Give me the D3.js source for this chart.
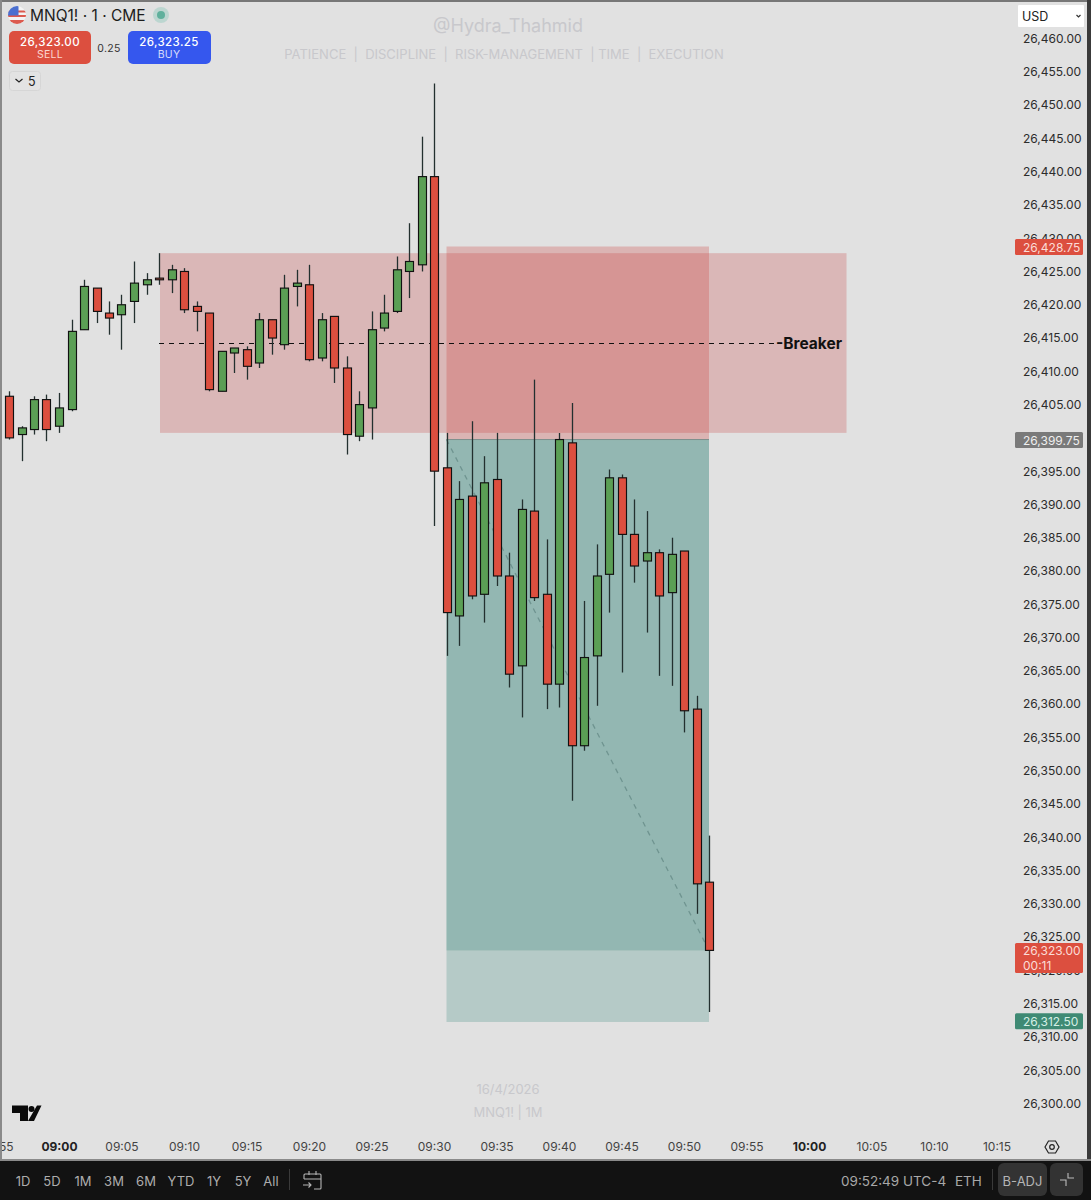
<!DOCTYPE html>
<html>
<head>
<meta charset="utf-8">
<script src="https://cdn.jsdelivr.net/npm/d3@7/dist/d3.min.js"></script>
<style>
html,body{margin:0;padding:0;background:#e1e1e1;}
svg{display:block;font-family:Inter,Roboto,"Noto Sans",sans-serif;}
</style>
</head>
<body>
<svg id="c" width="1091" height="1200"></svg>
<script>
// ---- data ----
const firstMinute = 8*60+56;
const opens  = [26406.25,26400.5,26401.25,26405.75,26401.75,26404.25,26416.25,26422.5,26418.75,26418.5,26420.5,26423,26424,26423.75,26425,26419.75,26418.75,26407,26412.75,26413.25,26411.25,26417.75,26414,26422.75,26423,26412,26418.25,26410.5,26400.25,26404.5,26416.5,26419,26425,26426,26439.25,26395.5,26373.25,26391.25,26376.5,26393.75,26379.25,26365.75,26389,26376.5,26363,26399.25,26353.75,26367.25,26379.5,26394,26385.5,26381.5,26382.75,26376.75,26383,26359.25,26333.25];
const highs  = [26407,26401.75,26406.25,26406.5,26406.75,26417.75,26423.75,26422.5,26420.5,26421.5,26426.5,26424.75,26427.75,26426,26425.5,26420.5,26418.75,26413,26413.5,26413.75,26418.75,26417.75,26424.5,26425.25,26426,26418.75,26418.25,26412.25,26407,26419,26421.5,26427.25,26432.25,26445.25,26453.25,26400.75,26393.5,26402.5,26397.25,26400.75,26382.75,26390.75,26408.75,26384.75,26400.75,26405.25,26375.5,26384,26395.25,26394.5,26390.75,26389,26383.25,26385,26383,26361.25,26340.25];
const lows   = [26399.75,26396.5,26400.5,26399.5,26400.75,26404,26416.25,26417.25,26415.5,26413.25,26417.25,26421.5,26423,26421.75,26418.75,26416,26407,26407,26409.75,26408.75,26410.5,26412.5,26413.25,26419.75,26411.5,26411.5,26408.25,26397.5,26399.5,26399.75,26416,26418.75,26421,26425,26386.75,26367.25,26368.75,26375.75,26372.25,26377.75,26362.5,26358,26375.5,26359.25,26359.5,26345.5,26353,26359.75,26373.75,26364.75,26378.25,26370.75,26364.25,26362.75,26355.75,26328.5,26313.75];
const closes = [26400,26401.5,26405.75,26401.25,26404.5,26416,26422.75,26419,26418,26420,26423.25,26423.75,26423.75,26425.25,26419.25,26419,26407.25,26413,26413.5,26410.75,26417.75,26415,26422.5,26423.25,26411.75,26417.75,26410.5,26400.5,26405,26416.25,26418.75,26425.25,26426.5,26439.25,26395,26373.75,26390.75,26376.25,26393.25,26379.25,26364.5,26389.25,26376,26363,26399.75,26353.75,26367,26379.25,26394,26385.5,26380.75,26382.75,26376.25,26382.5,26359,26333,26323];

const priceTicks = d3.range(26300, 26461, 5);
const timeTickMinutes = [535,540,545,550,555,560,565,570,575,580,585,590,595,600,605,610,615];
const timeTickLabels = ["08:55","09:00","09:05","09:10","09:15","09:20","09:25","09:30","09:35","09:40","09:45","09:50","09:55","10:00","10:05","10:10","10:15"];
const boldTimeTicks = ["09:00","10:00"];

const breakerZone = {t0:548, t1:603, top:26427.75, bottom:26400.75, level:26414.25};
const position = {t0:571, t1:592, stop:26428.75, entry:26399.75, current:26323, target:26312.5, zoneBottom:26312.25};

const rangeButtons = ["1D","5D","1M","3M","6M","YTD","1Y","5Y","All"];
const rangeButtonX = [23,52,83,114,146,181,214,243,271];

// ---- scales ----
const x = d3.scaleLinear().domain([540,600]).range([59,809]);
const y = d3.scaleLinear().domain([26460,26300]).range([38.5,1103.5]);
const fmt = d3.format(",.2f");
const tickFont = 12;

const svg = d3.select("#c");
svg.append("rect").attr("width",1091).attr("height",1200).attr("fill","#e1e1e1");

// watermarks
const wm = svg.append("g").attr("fill","#c8c8cc").attr("text-anchor","middle");
wm.append("text").attr("x",508).attr("y",32).attr("font-size",18).text("@Hydra_Thahmid");
wm.append("text").attr("x",504).attr("y",59).attr("font-size",13).attr("xml:space","preserve").text("PATIENCE  |  DISCIPLINE  |  RISK-MANAGEMENT  | TIME  |  EXECUTION");
wm.append("text").attr("x",508).attr("y",1094).attr("font-size",13).text("16/4/2026");
wm.append("text").attr("x",508).attr("y",1117).attr("font-size",13).text("MNQ1! | 1M");

// zones
svg.append("rect").attr("x",x(breakerZone.t0)+1).attr("width",x(breakerZone.t1)-x(breakerZone.t0)-1)
  .attr("y",y(breakerZone.top)).attr("height",y(breakerZone.bottom)-y(breakerZone.top))
  .attr("fill","rgb(200,60,60)").attr("fill-opacity",0.25);
const px0 = x(position.t0), pw = x(position.t1)-x(position.t0);
svg.append("rect").attr("x",px0).attr("width",pw).attr("y",y(position.stop)).attr("height",y(position.entry)-y(position.stop))
  .attr("fill","rgb(205,60,55)").attr("fill-opacity",0.27);
svg.append("rect").attr("x",px0).attr("width",pw).attr("y",y(position.entry)).attr("height",y(position.zoneBottom)-y(position.entry))
  .attr("fill","rgb(80,150,140)").attr("fill-opacity",0.30);
svg.append("rect").attr("x",px0).attr("width",pw).attr("y",y(position.entry)).attr("height",y(position.current)-y(position.entry))
  .attr("fill","rgb(70,140,130)").attr("fill-opacity",0.30);
svg.append("line").attr("x1",px0).attr("x2",px0+pw).attr("y1",y(position.entry)).attr("y2",y(position.entry))
  .attr("stroke","#7d8f8c").attr("stroke-width",1);
svg.append("line").attr("x1",px0).attr("y1",y(position.entry)).attr("x2",x(position.t1)).attr("y2",y(position.current))
  .attr("stroke","#6f9490").attr("stroke-width",1.3).attr("stroke-dasharray","5,5");

// breaker line
svg.append("line").attr("x1",x(breakerZone.t0)).attr("x2",776).attr("y1",y(breakerZone.level)).attr("y2",y(breakerZone.level))
  .attr("stroke","#111").attr("stroke-width",1).attr("stroke-dasharray","5,5").attr("shape-rendering","crispEdges");

// candles
const candles = opens.map((o,i)=>({t:firstMinute+i,o,h:highs[i],l:lows[i],c:closes[i]}));
const cg = svg.append("g");
cg.selectAll("line").data(candles).join("line")
  .attr("x1",d=>Math.round(x(d.t))+0.5).attr("x2",d=>Math.round(x(d.t))+0.5)
  .attr("y1",d=>y(d.h)).attr("y2",d=>y(d.l))
  .attr("stroke","#23302f").attr("stroke-width",1.3);
cg.selectAll("rect").data(candles).join("rect")
  .attr("x",d=>Math.round(x(d.t))+0.5-4).attr("width",8)
  .attr("y",d=>y(Math.max(d.o,d.c))).attr("height",d=>Math.max(1,Math.abs(y(d.o)-y(d.c))))
  .attr("fill",d=>d.c>d.o?"#5b9f55":"#dc4f3f")
  .attr("stroke","#111").attr("stroke-width",1.15);

svg.append("text").attr("x",776).attr("y",348.5).attr("font-size",15.5).attr("font-weight",700).attr("fill","#111").text("-Breaker");

// price axis
const ya = svg.append("g").attr("transform","translate(1023,0)")
  .call(d3.axisRight(y).tickValues(priceTicks).tickFormat(fmt).tickSize(0).tickPadding(0));
ya.select(".domain").remove();
ya.selectAll("text").attr("font-family","Inter,Roboto,sans-serif").attr("font-size",tickFont).attr("fill","#2c2c2c");

// time axis
const xa = svg.append("g").attr("transform","translate(0,1147)")
  .call(d3.axisBottom(x).tickValues(timeTickMinutes)
    .tickFormat(m=>timeTickLabels[timeTickMinutes.indexOf(m)]).tickSize(0).tickPadding(0));
xa.select(".domain").remove();
xa.selectAll("text").attr("dy","0.35em").attr("y",0).attr("font-family","Inter,Roboto,sans-serif").attr("font-size",tickFont)
  .attr("fill",d=>boldTimeTicks.includes(timeTickLabels[timeTickMinutes.indexOf(d)])?"#222":"#444")
  .attr("font-weight",d=>boldTimeTicks.includes(timeTickLabels[timeTickMinutes.indexOf(d)])?700:400);

// price tags
function tag(v,fill,color,h,extra,nudge){
  const yy=y(v)+(nudge||0), top=yy-8;
  const g=svg.append("g");
  g.append("rect").attr("x",1015).attr("y",top).attr("width",68).attr("height",h).attr("rx",1.5).attr("fill",fill);
  g.append("text").attr("x",1023).attr("y",yy+4.5).attr("font-size",tickFont).attr("fill",color).text(fmt(v));
  if(extra) g.append("text").attr("x",1023).attr("y",yy+19).attr("font-size",tickFont).attr("fill",color).text(extra);
}
tag(position.stop,"#dc4f3f","#fbdcd6",16,null,0.5);
tag(position.entry,"#7a7a7a","#efefef",16,null,0.5);
tag(position.current,"#dc4f3f","#fbdcd6",30,"00:11",0.5);
tag(position.target,"#3f8a74","#d5f0e6",16,null,1);

// USD select
svg.append("rect").attr("x",1018).attr("y",5).attr("width",66).attr("height",22).attr("fill","#fff").attr("rx",1);
svg.append("text").attr("x",1022).attr("y",21).attr("font-size",12.5).attr("fill","#222").text("USD");
svg.append("path").attr("d","M1076.5 15l2 2 2-2").attr("fill","none").attr("stroke","#333").attr("stroke-width",1.2);

// header
const defs = svg.append("defs");
defs.append("clipPath").attr("id","flag").append("circle").attr("cx",17).attr("cy",15).attr("r",9);
const flag = svg.append("g").attr("clip-path","url(#flag)");
flag.append("rect").attr("x",8).attr("y",6).attr("width",18).attr("height",18).attr("fill","#f3f3f3");
[10.5,15,19.5].forEach((yy,i)=>flag.append("rect").attr("x",8).attr("y",i==2?yy+0.5:yy).attr("width",18).attr("height",i==2?4.5:2).attr("fill","#dc5a4e"));
flag.append("rect").attr("x",8).attr("y",6).attr("width",10.5).attr("height",9.5).attr("fill","#4a6fd0");
svg.append("text").attr("x",30).attr("y",21).attr("font-size",15.5).attr("fill","#1c1c1c").text("MNQ1! · 1 · CME");
svg.append("circle").attr("cx",161).attr("cy",15).attr("r",8).attr("fill","#bcd6d0");
svg.append("circle").attr("cx",161).attr("cy",15).attr("r",4).attr("fill","#5fb09c");

svg.append("rect").attr("x",9).attr("y",31).attr("width",82).attr("height",33).attr("rx",5).attr("fill","#dc4f3f");
svg.append("text").attr("x",50).attr("y",46).attr("text-anchor","middle").attr("font-size",11.5).attr("font-weight",500).attr("letter-spacing",0.4).attr("fill","#fff").text("26,323.00");
svg.append("text").attr("x",50).attr("y",58).attr("text-anchor","middle").attr("font-size",10.5).attr("letter-spacing",0.3).attr("fill","#fbd5cf").text("SELL");
svg.append("text").attr("x",109).attr("y",52).attr("text-anchor","middle").attr("font-size",10.5).attr("letter-spacing",0.3).attr("fill","#333").text("0.25");
svg.append("rect").attr("x",128).attr("y",31).attr("width",83).attr("height",33).attr("rx",5).attr("fill","#3557ee");
svg.append("text").attr("x",169).attr("y",46).attr("text-anchor","middle").attr("font-size",11.5).attr("font-weight",500).attr("letter-spacing",0.4).attr("fill","#fff").text("26,323.25");
svg.append("text").attr("x",169).attr("y",58).attr("text-anchor","middle").attr("font-size",10.5).attr("letter-spacing",0.3).attr("fill","#d5dcfb").text("BUY");

svg.append("rect").attr("x",9.5).attr("y",71.5).attr("width",31).attr("height",19).attr("rx",3).attr("fill","#e3e3e3").attr("stroke","#d6d6d6");
svg.append("path").attr("d","M15.5 79l3.5 3 3.5-3").attr("fill","none").attr("stroke","#222").attr("stroke-width",1.2);
svg.append("text").attr("x",28).attr("y",86).attr("font-size",12.5).attr("fill","#222").text("5");

// TV logo
svg.append("path").attr("d","M12 1105.5h16v15.5h-8v-8h-8z M37 1105.5h4.5l-7.5 15.5h-6z").attr("fill","#0a0a0a");
svg.append("circle").attr("cx",31.5).attr("cy",1109).attr("r",3).attr("fill","#0a0a0a");

// settings icon
svg.append("path").attr("d","M1045 1147l3.5-6h7l3.5 6-3.5 6h-7z").attr("fill","none").attr("stroke","#222").attr("stroke-width",1.2);
svg.append("circle").attr("cx",1052).attr("cy",1147).attr("r",2.3).attr("fill","none").attr("stroke","#222").attr("stroke-width",1.2);

// frame
svg.append("rect").attr("x",0).attr("y",0).attr("width",1091).attr("height",2).attr("fill","#777");
svg.append("rect").attr("x",0).attr("y",0).attr("width",2).attr("height",1160).attr("fill","#8a8a8a");
svg.append("rect").attr("x",1087).attr("y",0).attr("width",4).attr("height",1160).attr("fill","#3a3a3a");
svg.append("rect").attr("x",0).attr("y",1159).attr("width",1091).attr("height",2).attr("fill","#8a8a8a");

// toolbar
svg.append("rect").attr("x",0).attr("y",1161).attr("width",1091).attr("height",39).attr("fill","#121212");
svg.append("rect").attr("x",289).attr("y",1169).attr("width",1).attr("height",21).attr("fill","#3a3a3a");
svg.append("rect").attr("x",992).attr("y",1169).attr("width",1).attr("height",21).attr("fill","#3a3a3a");
svg.append("rect").attr("x",998).attr("y",1163).attr("width",49).attr("height",33).attr("rx",6).attr("fill","#333");
svg.append("rect").attr("x",1050).attr("y",1163).attr("width",33).attr("height",33).attr("rx",6).attr("fill","#333");
const tb = svg.append("g").attr("font-size",13).attr("fill","#adadad");
tb.selectAll("text.r").data(rangeButtons).join("text").attr("class","r")
  .attr("x",(d,i)=>rangeButtonX[i]).attr("y",1185.5).attr("text-anchor","middle").text(d=>d);
svg.append("path").attr("d","M305 1174h15a1 1 0 0 1 1 1v13a1 1 0 0 1-1 1h-6 M304 1179v-4a1 1 0 0 1 1-1 M304 1179h17 M309 1171v4 M316 1171v4 M303 1185h8 M308.5 1182.5l2.5 2.5-2.5 2.5")
  .attr("fill","none").attr("stroke","#b5b5b5").attr("stroke-width",1.1);
tb.append("text").attr("x",841).attr("y",1185.5).attr("font-size",13.5).attr("fill","#a8a8a8").text("09:52:49 UTC-4");
tb.append("text").attr("x",955).attr("y",1185.5).attr("font-size",13.5).attr("fill","#a8a8a8").text("ETH");
tb.append("text").attr("x",1022.5).attr("y",1185.5).attr("text-anchor","middle").attr("font-size",13).attr("fill","#b5b5b5").text("B-ADJ");
svg.append("path").attr("d","M1060 1180h6v6 M1068 1173v5h6").attr("fill","none").attr("stroke","#bcbcbc").attr("stroke-width",1.1);
</script>
</body>
</html>
